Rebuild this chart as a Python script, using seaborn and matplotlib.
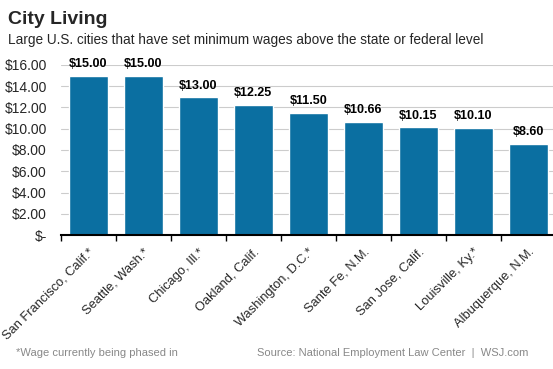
import numpy as np
import pandas as pd
import matplotlib
matplotlib.use("Agg")
import matplotlib.pyplot as plt
import seaborn as sns

# datos
ciudades = ["San Francisco, Calif.*", "Seattle, Wash.*", "Chicago, Ill.*", "Oakland, Calif.",
            "Washington, D.C.*", "Sante Fe, N.M.", "San Jose, Calif.", "Louisville, Ky.*",
            "Albuquerque, N.M."]
salarios = [15.00, 15.00, 13.00, 12.25, 11.50, 10.66, 10.15, 10.10, 8.60]
ticks_y = [0, 2, 4, 6, 8, 10, 12, 14, 16]
etiquetas_y = ["$-", "$2.00", "$4.00", "$6.00", "$8.00", "$10.00", "$12.00", "$14.00", "$16.00"]

AZUL = "#0b6fa1"

sns.set_theme(style="white")
plt.rcParams["font.family"] = ["Liberation Sans", "DejaVu Sans"]

df = pd.DataFrame({"ciudad": ciudades, "salario": salarios})

fig = plt.figure(figsize=(5.53, 3.69), dpi=100)
ax = fig.add_axes([0.11, 0.363, 0.895, 0.461])

for y in ticks_y[1:]:
    ax.axhline(y, color="#cccccc", linewidth=0.8, zorder=0)

sns.barplot(data=df, x="ciudad", y="salario", color=AZUL, saturation=1, width=0.71, ax=ax, zorder=2)

for i, v in enumerate(salarios):
    ax.text(i, v + 0.5, f"${v:.2f}", ha="center", va="bottom", fontsize=9,
            fontweight="bold", color="black")

ax.set_ylim(0, 16)
ax.set_xlim(-0.5, len(ciudades) - 0.5)
ax.set_yticks(ticks_y)
ax.set_yticklabels(etiquetas_y, fontsize=10)
ax.tick_params(axis="y", length=0, pad=10)
ax.set_xticks(range(len(ciudades)))
ax.set_xticklabels(ciudades, rotation=45, ha="right", rotation_mode="anchor", fontsize=9.3)
ax.tick_params(axis="x", which="major", length=0, pad=8)
ax.set_xticks(np.arange(-0.5, len(ciudades), 1), minor=True)
ax.tick_params(axis="x", which="minor", length=4, width=1, color="black", direction="out", bottom=True)
ax.set_xlabel("")
ax.set_ylabel("")
for s in ["top", "right", "left"]:
    ax.spines[s].set_visible(False)
ax.spines["bottom"].set_color("black")
ax.spines["bottom"].set_linewidth(1.5)

fig.text(0.015, 0.948, "City Living", fontsize=14, fontweight="bold", ha="left", va="center")
fig.text(0.015, 0.892, "Large U.S. cities that have set minimum wages above the state or federal level",
         fontsize=9.8, ha="left", va="center")
fig.text(0.029, 0.043, "*Wage currently being phased in", fontsize=8, color="#888888", ha="left", va="center")
fig.text(0.955, 0.043, "Source: National Employment Law Center  |  WSJ.com", fontsize=8,
         color="#888888", ha="right", va="center")

fig.savefig("out.png", dpi=100)
